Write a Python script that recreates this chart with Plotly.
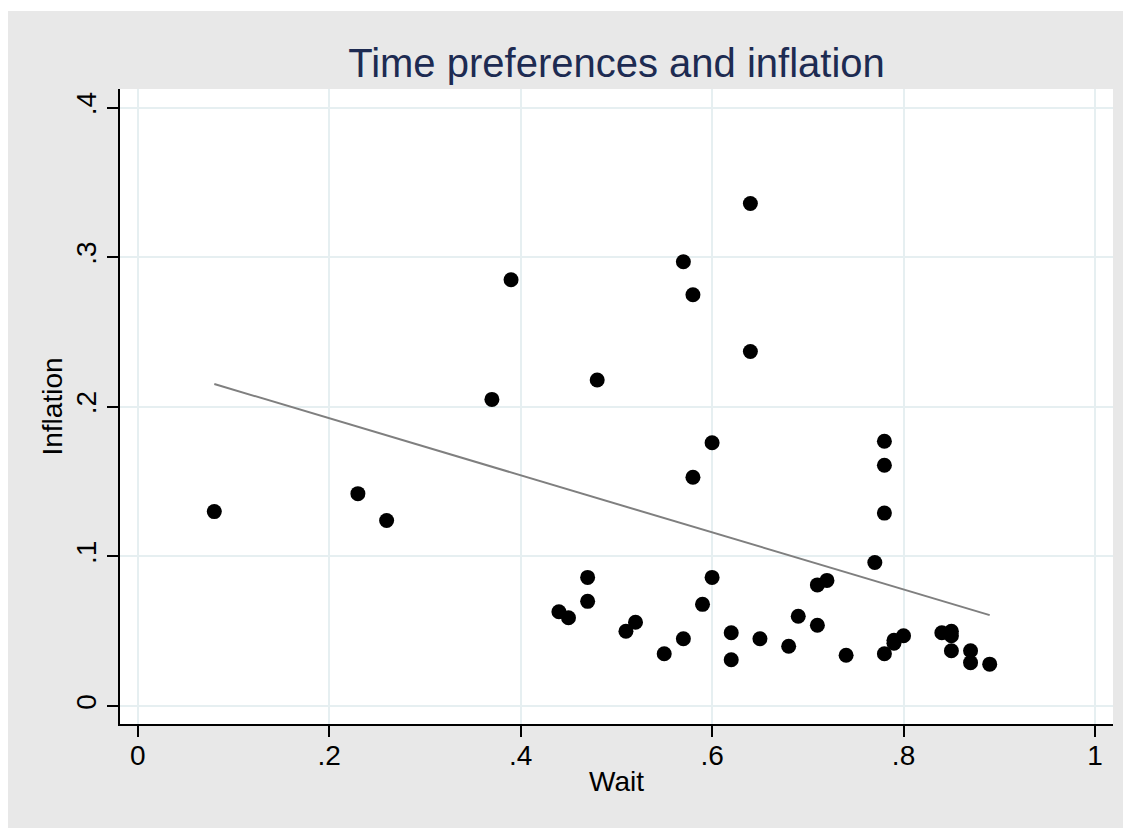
import plotly.graph_objects as go

# Data
wait = [0.08, 0.23, 0.26, 0.37, 0.39, 0.44, 0.45, 0.47, 0.47, 0.48,
        0.51, 0.52, 0.55, 0.57, 0.57, 0.58, 0.58, 0.59, 0.60, 0.60,
        0.62, 0.62, 0.64, 0.64, 0.65, 0.68, 0.69, 0.71, 0.71, 0.72,
        0.74, 0.77, 0.78, 0.78, 0.78, 0.78, 0.79, 0.79, 0.80, 0.84,
        0.85, 0.85, 0.85, 0.87, 0.87, 0.89]
inflation = [0.130, 0.142, 0.124, 0.205, 0.285, 0.063, 0.059, 0.086, 0.070, 0.218,
             0.050, 0.056, 0.035, 0.297, 0.045, 0.275, 0.153, 0.068, 0.176, 0.086,
             0.049, 0.031, 0.336, 0.237, 0.045, 0.040, 0.060, 0.081, 0.054, 0.084,
             0.034, 0.096, 0.177, 0.161, 0.129, 0.035, 0.042, 0.044, 0.047, 0.049,
             0.050, 0.047, 0.037, 0.037, 0.029, 0.028]

# Fitted line end points
fit_x = [0.08, 0.89]
fit_y = [0.2153, 0.0608]

x_ticks = [0, 0.2, 0.4, 0.6, 0.8, 1]
x_ticklabels = ["0", ".2", ".4", ".6", ".8", "1"]
y_ticks = [0, 0.1, 0.2, 0.3, 0.4]
y_ticklabels = ["0", ".1", ".2", ".3", ".4"]

FONT = "Liberation Sans, Arial, Helvetica, sans-serif"
GRID = "#e6eff1"

fig = go.Figure()
fig.add_trace(go.Scatter(
    x=fit_x, y=fit_y, mode="lines",
    line=dict(color="#7f7f7f", width=2),
    showlegend=False, hoverinfo="skip"))
fig.add_trace(go.Scatter(
    x=wait, y=inflation, mode="markers",
    marker=dict(color="black", size=15, line=dict(width=0)),
    showlegend=False))

# page is offset by the 8px body margin
W, H = 1123, 820
L, R, T, B = 112, 18, 81, 104
pw, ph = W - L - R, H - T - B

# outer gray region (thin white band at top) and white plot region
fig.add_shape(type="rect", xref="paper", yref="paper", layer="below",
              x0=-L / pw, x1=(W - L) / pw,
              y0=-B / ph, y1=(H - 3 - B) / ph,
              fillcolor="#e8e8e8", line=dict(width=0))
fig.add_shape(type="rect", xref="paper", yref="paper", layer="below",
              x0=0, x1=1, y0=0, y1=1,
              fillcolor="white", line=dict(width=0))

fig.update_layout(
    width=W, height=H,
    margin=dict(l=L, r=R, t=T, b=B, autoexpand=False),
    paper_bgcolor="white", plot_bgcolor="white",
    font=dict(family=FONT, color="black"),
    title=dict(text="Time preferences and inflation",
               font=dict(family=FONT, size=40, color="#1d2b52"),
               x=(L + pw / 2) / W, xanchor="center", xref="container",
               y=1 - 55 / H, yanchor="middle", yref="container"),
    xaxis=dict(range=[-0.0185, 1.0188], tickvals=x_ticks, ticktext=x_ticklabels,
               showgrid=True, gridcolor=GRID, gridwidth=2, zeroline=False,
               showline=True, linecolor="black", linewidth=1.5,
               ticks="outside", ticklen=11, tickwidth=1.5, tickcolor="black",
               ticklabelstandoff=-5,
               tickfont=dict(size=28, color="black"),
               title=dict(text="Wait", font=dict(size=28, color="black"), standoff=1)),
    yaxis=dict(range=[-0.0120, 0.4125], tickvals=y_ticks, ticktext=y_ticklabels,
               showgrid=True, gridcolor=GRID, gridwidth=2, zeroline=False,
               showline=True, linecolor="black", linewidth=1.5,
               ticks="outside", ticklen=11, tickwidth=1.5, tickcolor="black",
               tickangle=-90,
               tickfont=dict(size=28, color="black"),
               title=dict(text="Inflation", font=dict(size=28, color="black"), standoff=0)),
)

fig.write_html("out.html")
